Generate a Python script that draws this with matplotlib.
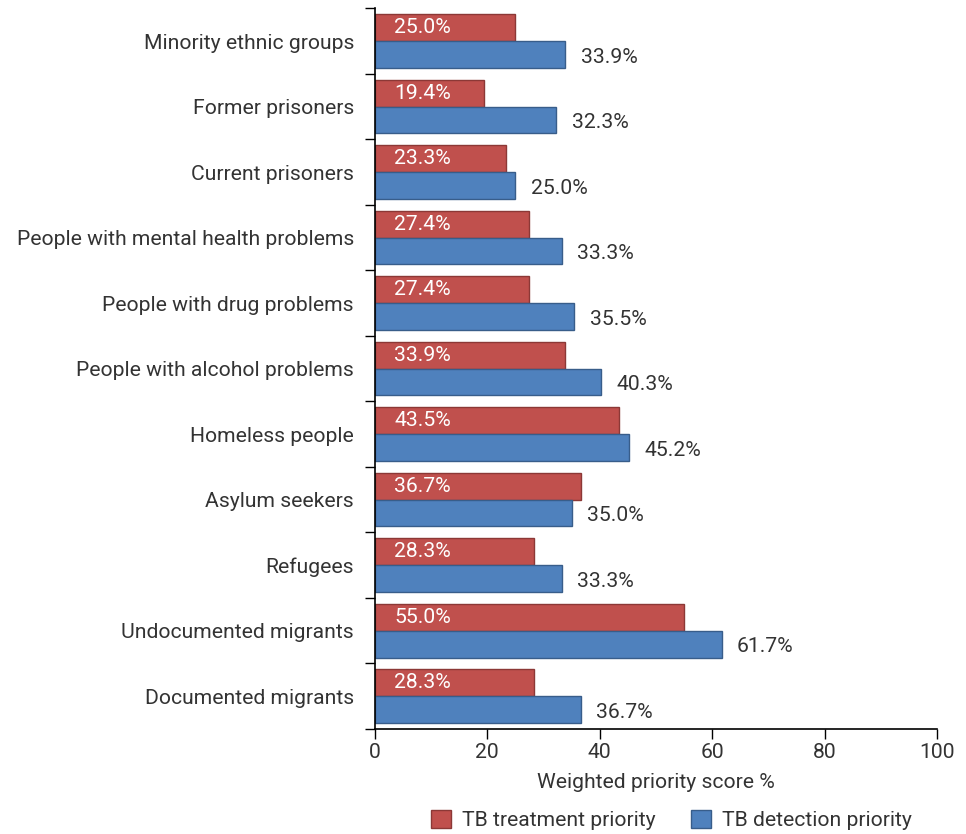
import matplotlib.pyplot as plt
import numpy as np

CATEGORIES = [
    "Minority ethnic groups",
    "Former prisoners",
    "Current prisoners",
    "People with mental health problems",
    "People with drug problems",
    "People with alcohol problems",
    "Homeless people",
    "Asylum seekers",
    "Refugees",
    "Undocumented migrants",
    "Documented migrants",
]
TREATMENT = [25.0, 19.4, 23.3, 27.4, 27.4, 33.9, 43.5, 36.7, 28.3, 55.0, 28.3]
DETECTION = [33.9, 32.3, 25.0, 33.3, 35.5, 40.3, 45.2, 35.0, 33.3, 61.7, 36.7]

RED = "#C0504D"
RED_EDGE = "#8C3836"
BLUE = "#4F81BD"
BLUE_EDGE = "#385D8A"
TEXT = "#333333"
FS = 15.2

plt.rcParams["font.family"] = ["Roboto", "DejaVu Sans"]

fig = plt.figure(figsize=(9.66, 8.34), dpi=100)
ax = fig.add_axes([0.388, 0.126, 0.582, 0.864])

y = np.arange(len(CATEGORIES))
h = 0.41
red_bars = ax.barh(y - h / 2, TREATMENT, height=h, color=RED, edgecolor=RED_EDGE,
                   linewidth=1, label="TB treatment priority")
blue_bars = ax.barh(y + h / 2, DETECTION, height=h, color=BLUE, edgecolor=BLUE_EDGE,
                    linewidth=1, label="TB detection priority")

for yi, v in zip(y, TREATMENT):
    ax.annotate(f"{v:.1f}%", xy=(0, yi - h / 2), xytext=(14, 0), textcoords="offset points",
                va="center", ha="left", color="white", fontsize=FS)
for yi, v in zip(y, DETECTION):
    ax.annotate(f"{v:.1f}%", xy=(v, yi + h / 2), xytext=(11, -2), textcoords="offset points",
                va="center", ha="left", color=TEXT, fontsize=FS)

ax.set_xlim(0, 100)
ax.set_ylim(len(CATEGORIES) - 0.5, -0.5)
ax.set_xticks([0, 20, 40, 60, 80, 100])
ax.set_yticks(y)
ax.set_yticklabels(CATEGORIES)
ax.set_yticks(np.arange(len(CATEGORIES) + 1) - 0.5, minor=True)
ax.tick_params(axis="y", which="major", length=0, pad=15, labelsize=FS, labelcolor=TEXT)
ax.tick_params(axis="y", which="minor", length=7, width=1, direction="out")
ax.tick_params(axis="x", length=7, width=1, direction="out", labelsize=FS,
               labelcolor=TEXT, pad=3)

for side in ["top", "right"]:
    ax.spines[side].set_visible(False)
for side in ["left", "bottom"]:
    ax.spines[side].set_linewidth(1.2)

ax.set_xlabel("Weighted priority score %", fontsize=FS, color=TEXT, labelpad=8)

fig.legend(handles=[red_bars, blue_bars], loc="lower center", ncol=2,
           bbox_to_anchor=(0.695, -0.018), frameon=False, fontsize=FS,
           handlelength=0.95, handleheight=0.95, handletextpad=0.5,
           columnspacing=1.7, labelcolor=TEXT)

fig.savefig("out.png", dpi=100)
